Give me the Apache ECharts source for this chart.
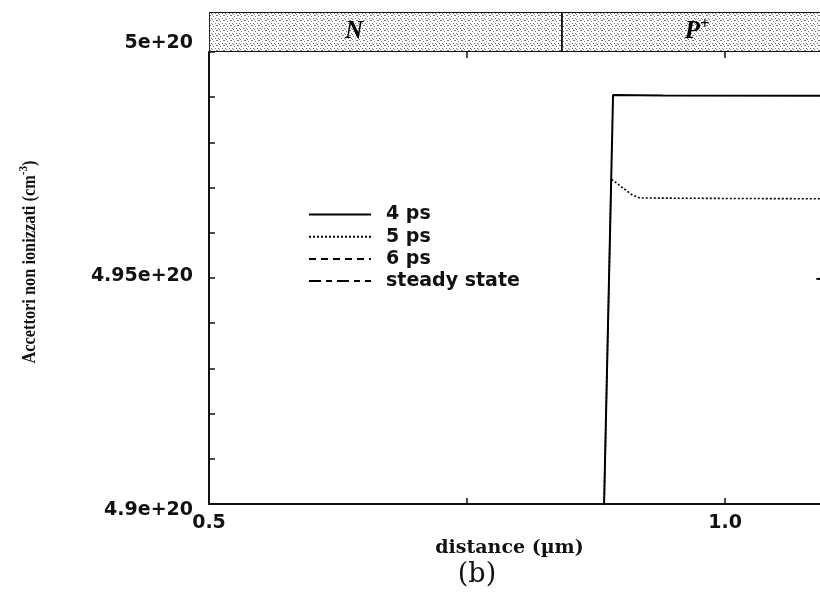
<!DOCTYPE html>
<html>
<head>
<meta charset="utf-8">
<script src="https://cdn.jsdelivr.net/npm/echarts@6/dist/echarts.min.js"></script>
<style>
  html, body { margin: 0; padding: 0; background: #ffffff; }
  #chart { width: 820px; height: 596px; }
</style>
</head>
<body>
<div id="chart"></div>
<script>
// Distance along the device (µm) and non-ionised acceptor density (cm^-3)
const dist4ps   = [0.8809, 0.8915, 0.9400, 1.1300];
const acc4ps    = [4.880e20, 4.9905e20, 4.9904e20, 4.9903e20];

const dist5ps   = [0.8809, 0.8897, 0.9099, 0.9176, 1.0000, 1.1300];
const acc5ps    = [4.880e20, 4.9719e20, 4.9684e20, 4.9677e20, 4.9676e20, 4.9675e20];

const dist6ps   = [1.0885, 1.2000];
const acc6ps    = [4.9498e20, 4.9498e20];

const distSteady = [];
const accSteady  = [];

const seriesNames = ['4 ps', '5 ps', '6 ps', 'steady state'];

// Doping regions shown in the strip above the plot
const regionNames  = ['N', 'P+'];
const regionFrom   = [0.5, 0.842];
const regionTo     = [0.842, 1.25];
const regionLabelX = [0.6405, 0.973];

// Axis settings (the plot continues past the right edge of the page)
const xMin = 0.5, xMax = 1.1211, xStep = 0.25;
const yMin = 4.9e20, yMax = 5.0e20, yStep = 1e18;
const xTickLabels = { '0.5': '0.5', '1': '1.0' };
const yTickLabels = { 490: '{lo|4.9e+20}', 495: '{mid|4.95e+20}', 500: '{hi|5e+20}' };

function zip(xs, ys) { return xs.map((x, i) => [x, ys[i]]); }

// Stippled fill for the region strip
function stipple() {
  const c = document.createElement('canvas');
  c.width = 7; c.height = 5;
  const g = c.getContext('2d');
  g.fillStyle = '#ffffff';
  g.fillRect(0, 0, 7, 5);
  g.fillStyle = 'rgba(60,60,60,0.7)';
  [[0,0],[3,1],[5,3],[1,3],[6,0],[2,4]].forEach(p => g.fillRect(p[0], p[1], 1, 1));
  return c;
}
const stippleImg = stipple();

const chart = echarts.init(document.getElementById('chart'), null, { renderer: 'canvas' });

const sansLabel = { fontFamily: 'DejaVu Sans', fontWeight: 'bold', fontSize: 19, color: '#111' };

chart.setOption({
  animation: false,
  backgroundColor: '#ffffff',
  grid: [
    { left: 209, right: -30, top: 52, bottom: 92, outerBoundsMode: 'none' },
    { left: 209, right: -30, top: 12, height: 40, outerBoundsMode: 'none' }
  ],
  legend: {
    data: seriesNames,
    orient: 'vertical',
    left: 308,
    top: 205,
    padding: 0,
    itemWidth: 62,
    itemHeight: 14,
    itemGap: 3.2,
    itemStyle: { opacity: 0 },
    textStyle: { fontFamily: 'DejaVu Sans', fontWeight: 'bold', fontSize: 19, color: '#111', padding: [0, 0, 0, 10] }
  },
  xAxis: [
    {
      type: 'value', gridIndex: 0, position: 'bottom',
      min: xMin, max: xMax, interval: xStep,
      name: 'distance (µm)', nameLocation: 'middle', nameGap: 35, nameTextStyle: {
        fontFamily: 'DejaVu Serif', fontWeight: 'bold', fontSize: 19, color: '#111', padding: [0, 40, 0, 0]
      },
      axisLine: { show: true, lineStyle: { color: '#111', width: 2 } },
      axisTick: { show: true, inside: true, length: 6, lineStyle: { color: '#111', width: 1.5 } },
      axisLabel: Object.assign({ margin: 10, formatter: v => xTickLabels[String(Math.round(v * 100) / 100)] || '' }, sansLabel),
      splitLine: { show: false }
    },
    {
      type: 'value', gridIndex: 0, position: 'top',
      min: xMin, max: xMax, interval: xStep,
      axisLine: { show: false },
      axisTick: { show: true, inside: true, length: 6, lineStyle: { color: '#111', width: 1.5 } },
      axisLabel: { show: false },
      splitLine: { show: false }
    },
    {
      type: 'value', gridIndex: 1, min: xMin, max: xMax, show: false
    }
  ],
  yAxis: [
    {
      type: 'value', gridIndex: 0,
      min: yMin, max: yMax, interval: yStep,
      axisLine: { show: true, lineStyle: { color: '#111', width: 2 } },
      axisTick: { show: true, inside: true, length: 6, lineStyle: { color: '#111', width: 1.5 } },
      axisLabel: Object.assign({
        margin: 16,
        formatter: v => yTickLabels[Math.round(v / 1e18)] || '',
        rich: {
          hi:  { fontFamily: 'DejaVu Sans', fontWeight: 'bold', fontSize: 19, color: '#111', padding: [0, 0, 18, 0] },
          mid: { fontFamily: 'DejaVu Sans', fontWeight: 'bold', fontSize: 19, color: '#111', padding: [0, 0, 4, 0] },
          lo:  { fontFamily: 'DejaVu Sans', fontWeight: 'bold', fontSize: 19, color: '#111', padding: [12, 0, 0, 0] }
        }
      }, sansLabel),
      splitLine: { show: false }
    },
    {
      type: 'value', gridIndex: 1, min: 0, max: 1, show: false
    }
  ],
  graphic: [
    {
      // y-axis title, set upright and slightly condensed along its length
      type: 'text', x: 30, y: 262, rotation: Math.PI / 2, scaleX: 0.86,
      style: {
        text: 'Accettori non ionizzati (cm{sup|-3})',
        align: 'center', verticalAlign: 'middle',
        font: 'bold 19px "Liberation Serif"', fill: '#111',
        rich: { sup: { font: 'bold 13px "Liberation Serif"', fill: '#111', padding: [0, 0, 12, 0] } }
      }
    },
    {
      type: 'text', x: 477, y: 575,
      style: { text: '(b)', align: 'center', verticalAlign: 'middle', font: '27px "DejaVu Serif"', fill: '#111' }
    }
  ],
  series: [
    {
      name: '4 ps', type: 'line', xAxisIndex: 0, yAxisIndex: 0,
      data: zip(dist4ps, acc4ps), symbol: 'none', clip: true, color: '#000',
      lineStyle: { color: '#000', width: 2, type: 'solid' }
    },
    {
      name: '5 ps', type: 'line', xAxisIndex: 0, yAxisIndex: 0,
      data: zip(dist5ps, acc5ps), symbol: 'none', clip: true, color: '#000',
      lineStyle: { color: '#000', width: 1.6, type: [2, 2] }
    },
    {
      name: '6 ps', type: 'line', xAxisIndex: 0, yAxisIndex: 0,
      data: zip(dist6ps, acc6ps), symbol: 'none', clip: true, color: '#000',
      lineStyle: { color: '#000', width: 2, type: [7, 5] }
    },
    {
      name: 'steady state', type: 'line', xAxisIndex: 0, yAxisIndex: 0,
      data: zip(distSteady, accSteady), symbol: 'none', clip: true, color: '#000',
      lineStyle: { color: '#000', width: 2, type: [12, 5, 6, 5] }
    },
    {
      // Strip with N / P+ regions
      type: 'custom', xAxisIndex: 2, yAxisIndex: 1, clip: true,
      silent: true, legendHoverLink: false,
      data: regionNames.map((n, i) => [regionFrom[i], regionTo[i], regionLabelX[i], i]),
      renderItem: function (params, api) {
        const i = api.value(3);
        const p0 = api.coord([api.value(0), 1]);
        const p1 = api.coord([api.value(1), 0]);
        const pl = api.coord([api.value(2), 0.5]);
        const cs = params.coordSys;
        const x0 = Math.max(p0[0], cs.x);
        const x1 = Math.min(p1[0], cs.x + cs.width + 2);
        const isP = regionNames[i] === 'P+';
        return {
          type: 'group',
          children: [
            {
              type: 'rect',
              shape: { x: x0, y: p0[1], width: x1 - x0, height: p1[1] - p0[1] },
              style: { fill: { image: stippleImg, repeat: 'repeat' }, stroke: '#111', lineWidth: 1.8 }
            },
            {
              type: 'text', x: pl[0], y: pl[1],
              style: {
                text: isP ? 'P{sup|+}' : regionNames[i],
                align: 'center', verticalAlign: 'middle',
                font: 'italic bold 25px "Liberation Serif"', fill: '#000',
                rich: { sup: { font: 'bold 17px "Liberation Serif"', fill: '#000', padding: [0, 0, 14, 0] } }
              }
            }
          ]
        };
      }
    }
  ]
});
</script>
</body>
</html>
